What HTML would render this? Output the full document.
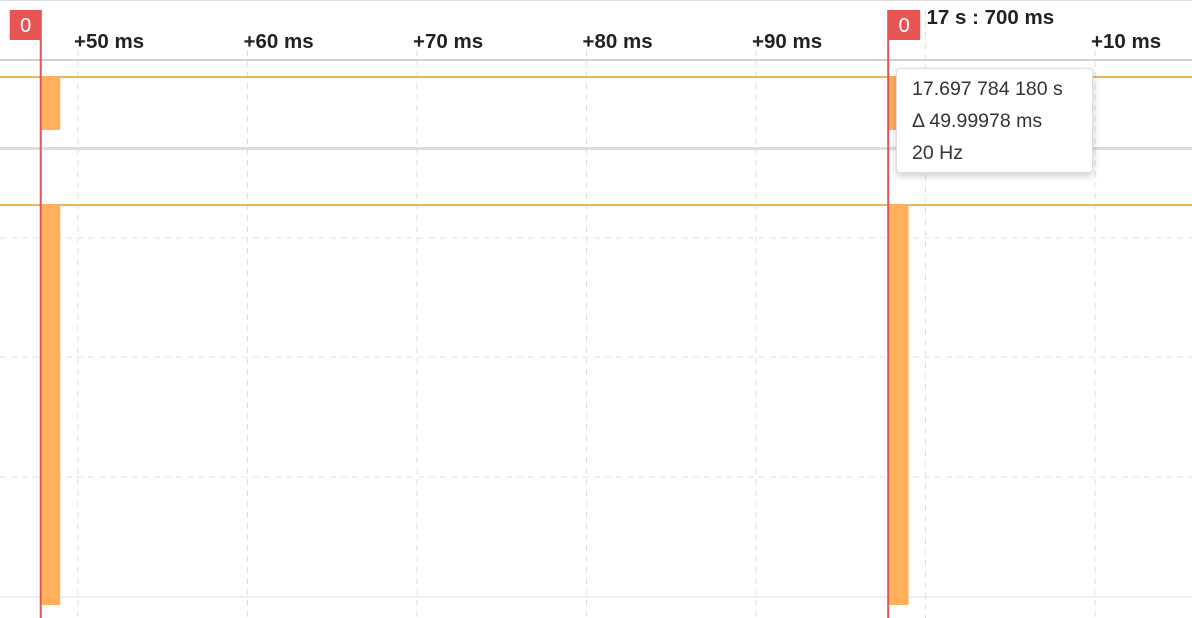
<!DOCTYPE html>
<html><head><meta charset="utf-8"><style>
html,body{margin:0;padding:0;background:#fff;width:1192px;height:618px;overflow:hidden;font-family:"Liberation Sans",sans-serif}
svg{position:absolute;left:0;top:0}
.tip{position:absolute;left:896px;top:68px;width:197px;height:105px;background:#fff;border:1px solid #ddd;border-radius:4px;box-shadow:0 3px 8px rgba(0,0,0,.2);font-size:19.5px;color:#333;box-sizing:border-box;padding:4px 0 0 15px;line-height:32px}
</style></head><body>
<svg id="c" width="1192" height="618"></svg>
<div class="tip"><div>17.697 784 180 s</div><div>Δ 49.99978 ms</div><div>20 Hz</div></div>
<script>
const tickTimes=[50,60,70,80,90,100,110];
const tickLabels=["+50 ms","+60 ms","+70 ms","+80 ms","+90 ms","17 s : 700 ms","+10 ms"];
const markerTimes=[47.8,97.8];
const markerLabels=["0","0"];
const pulseStarts=[47.8,97.85];
const pulseWidths=[1.15,1.15];
const x=t=>78+(t-50)*16.95;
const s=document.getElementById('c');
const NS='http://www.w3.org/2000/svg';
function mk(tag,a,name){const e=document.createElementNS(NS,tag);for(const k in a)e.setAttribute(k,a[k]);


s.appendChild(e);return e;}
mk('line',{x1:0,y1:0.5,x2:1192,y2:0.5,stroke:'#ddd'},'top-border');
tickTimes.forEach((t,i)=>{
 mk('line',{x1:x(t),y1:i==5?10:50,x2:x(t),y2:618,stroke:'#ddd','stroke-dasharray':'6,5'},'grid-line');
 const tx=mk('text',{x:i==5?x(t)+1:x(t)-4,y:i==5?24:48,'font-size':20.5,'font-weight':'bold',fill:'#222'},'tick-label');tx.textContent=tickLabels[i];
});
[238,357,477].forEach(y=>mk('line',{x1:0,y1:y,x2:1192,y2:y,stroke:'#e2e2e2','stroke-dasharray':'6,5'},'h-grid-line'));
mk('line',{x1:0,y1:597,x2:1192,y2:597,stroke:'#ddd'},'bottom-line');
mk('rect',{x:0,y:59,width:1192,height:2,fill:'#d0d0d0'},'axis-separator');
mk('rect',{x:0,y:147,width:1192,height:3,fill:'#ddd'},'track-separator');
mk('line',{x1:0,y1:77,x2:1192,y2:77,stroke:'#f5b25a','stroke-width':2},'digital-track-line');
mk('line',{x1:0,y1:205,x2:1192,y2:205,stroke:'#f5b25a','stroke-width':2},'analog-track-line');
pulseStarts.forEach((p,i)=>{
 mk('rect',{x:x(p),y:77,width:pulseWidths[i]*16.95,height:53,fill:'#ffb05a'},'digital-pulse');
 mk('rect',{x:x(p),y:205,width:pulseWidths[i]*16.95,height:400,fill:'#ffb05a'},'analog-burst');
});
markerTimes.forEach((t,i)=>{
 mk('line',{x1:x(t),y1:10,x2:x(t),y2:618,stroke:'#e05555','stroke-width':2},'marker-line');
 const fx=i==0?x(t)-31:x(t);
 mk('rect',{x:fx,y:10,width:32,height:30,fill:'#e85555'},'marker-flag');
 const tx=mk('text',{x:fx+16,y:32,'font-size':20,fill:'#fff','text-anchor':'middle'},'marker-label');tx.textContent=markerLabels[i];
});
</script>
</body></html>
